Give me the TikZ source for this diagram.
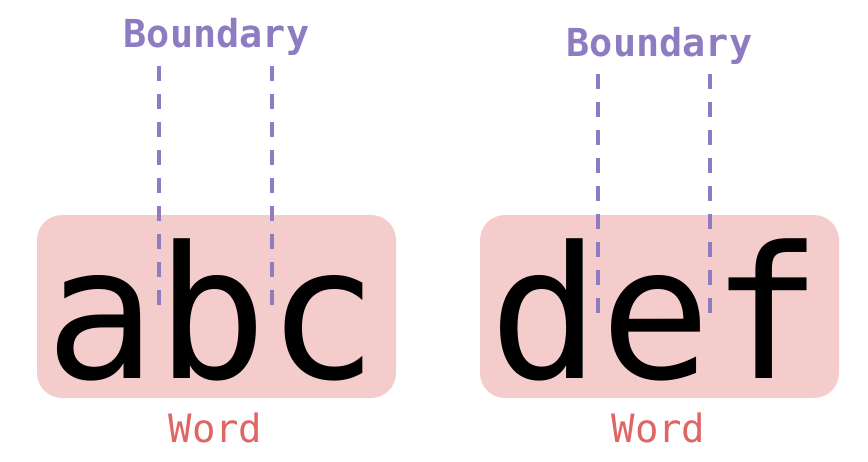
\documentclass[tikz,border=0pt]{standalone}
\usepackage{fontspec}
\newfontfamily\mono{DejaVu Sans Mono}
\definecolor{wordfill}{HTML}{F4CCCC}
\definecolor{bnd}{HTML}{8E7CC3}
\definecolor{wordred}{HTML}{E06666}
\begin{document}
\begin{tikzpicture}[x=1pt,y=-1pt,
  wordbox/.style={fill=wordfill, rounded corners=25pt, minimum width=359pt, minimum height=183pt, inner sep=0pt},
  bigtext/.style={font=\mono\fontsize{184}{184}\selectfont, inner sep=0pt, anchor=base, text depth=0pt},
  bndlabel/.style={font=\mono\bfseries\fontsize{38.5}{38.5}\selectfont, text=bnd, inner sep=0pt, anchor=base},
  wordlabel/.style={font=\mono\fontsize{39}{39}\selectfont, text=wordred, inner sep=0pt, anchor=base},
  bndline/.style={draw=bnd, line width=4pt, dash pattern=on 15pt off 13pt}]
\useasboundingbox (0,0) rectangle (868,461);
% left
\node[wordbox] (boxL) at (216.5,306.5) {};
\node[bigtext] (abc) at (212,378) {abc};
\node[bndlabel] (bL) at (216.5,47) {Boundary};
\node[wordlabel] (wL) at (215.5,442) {Word};
\coordinate (l1t) at (159,66); \coordinate (l1b) at (159,306);
\coordinate (l2t) at (272,66); \coordinate (l2b) at (272,306);
\draw[bndline] (l1t) -- (l1b);
\draw[bndline] (l2t) -- (l2b);
% right
\node[wordbox] (boxR) at (659.5,306.5) {};
\node[bigtext] (def) at (656,378) {def};
\node[bndlabel] (bR) at (659.5,56) {Boundary};
\node[wordlabel] (wR) at (658.5,442) {Word};
\coordinate (r1t) at (598,74); \coordinate (r1b) at (598,314);
\coordinate (r2t) at (710,74); \coordinate (r2b) at (710,314);
\draw[bndline] (r1t) -- (r1b);
\draw[bndline] (r2t) -- (r2b);
\end{tikzpicture}
\end{document}
